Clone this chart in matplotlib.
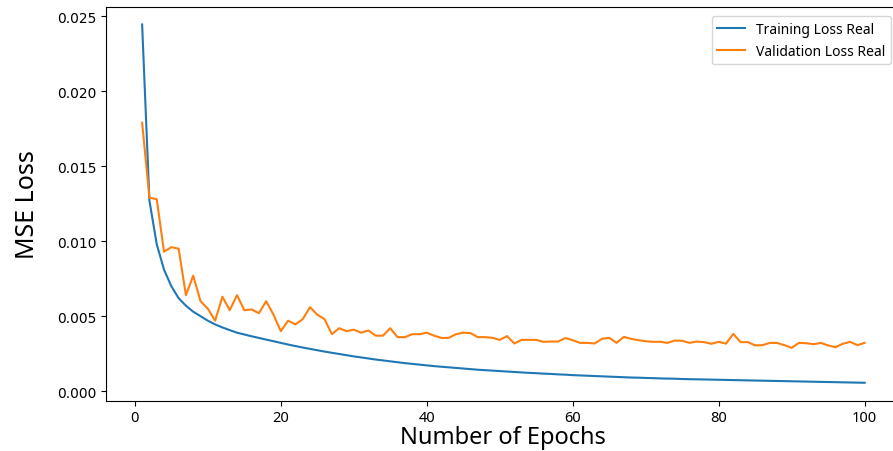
import numpy as np
import matplotlib.pyplot as plt

epochs = list(range(1, 101))

train_loss = [
    0.02445, 0.0127, 0.0098, 0.0081, 0.0070, 0.0062, 0.0057, 0.0053, 0.0050, 0.0047,
    0.00445, 0.00425, 0.00407, 0.0039, 0.00378, 0.00366, 0.00355, 0.00344, 0.00333, 0.00322,
    0.00311, 0.00301, 0.00291, 0.00282, 0.00273, 0.00264, 0.00256, 0.00248, 0.0024, 0.00232,
    0.00225, 0.00218, 0.00211, 0.00205, 0.00199, 0.00193, 0.00187, 0.00182, 0.00177, 0.00172,
    0.00167, 0.00163, 0.00159, 0.00155, 0.00151, 0.00147, 0.00143, 0.0014, 0.00137, 0.00134,
    0.00131, 0.00128, 0.00125, 0.00122, 0.0012, 0.00117, 0.00115, 0.00112, 0.0011, 0.00107,
    0.00105, 0.00103, 0.00101, 0.00099, 0.00097, 0.00095, 0.00093, 0.00091, 0.0009, 0.00088,
    0.00087, 0.00085, 0.00084, 0.00083, 0.00081, 0.0008, 0.00079, 0.00078, 0.00077, 0.00076,
    0.00075, 0.00074, 0.00073, 0.00072, 0.00071, 0.0007, 0.00069, 0.00068, 0.00067, 0.00066,
    0.00065, 0.00064, 0.00063, 0.00062, 0.00061, 0.0006, 0.00059, 0.00058, 0.00057, 0.00056,
]

val_loss = [
    0.0179, 0.0129, 0.0128, 0.0093, 0.0096, 0.0095, 0.0064, 0.0077, 0.0060, 0.0055,
    0.0047, 0.0063, 0.0054, 0.0064, 0.0054, 0.00545, 0.0052, 0.0060, 0.0051, 0.0040,
    0.0047, 0.00445, 0.0048, 0.0056, 0.0051, 0.0048, 0.0038, 0.0042, 0.0040, 0.0041,
    0.0039, 0.00405, 0.0037, 0.0037, 0.0042, 0.0036, 0.0036, 0.0038, 0.0038, 0.0039,
    0.0037, 0.00355, 0.00355, 0.0038, 0.0039, 0.00387, 0.0036, 0.0036, 0.00356, 0.00342,
    0.00367, 0.00318, 0.00342, 0.00342, 0.00342, 0.00329, 0.00331, 0.00331, 0.00354, 0.0034,
    0.00322, 0.00322, 0.00318, 0.00349, 0.00356, 0.00322, 0.00362, 0.00349, 0.0034, 0.00333,
    0.00329, 0.00329, 0.00322, 0.00338, 0.00336, 0.00322, 0.00331, 0.00327, 0.00316, 0.00329,
    0.00317, 0.00382, 0.00327, 0.00327, 0.00305, 0.00307, 0.00322, 0.00322, 0.00307, 0.00289,
    0.00322, 0.0032, 0.00313, 0.00322, 0.00305, 0.00293, 0.00316, 0.00329, 0.00307, 0.00322,
]

fig = plt.figure(figsize=(8.93, 4.52), dpi=100)
ax = fig.add_axes([0.1187, 0.1113, 0.89, 0.872])

ax.plot(epochs, train_loss, label='Training Loss Real')
ax.plot(epochs, val_loss, label='Validation Loss Real')

ax.set_xlabel('Number of Epochs', fontsize=17, family='Noto Sans', labelpad=0)
ax.set_ylabel('MSE Loss', fontsize=18, family='Noto Sans', labelpad=12)

for lbl in ax.get_xticklabels():
    lbl.set_family('Noto Sans')
    lbl.set_fontsize(10.5)

ax.legend(loc='upper right', prop={'family': 'Noto Sans', 'size': 10},
          borderaxespad=0.7)

fig.savefig('out.png', dpi=100)
